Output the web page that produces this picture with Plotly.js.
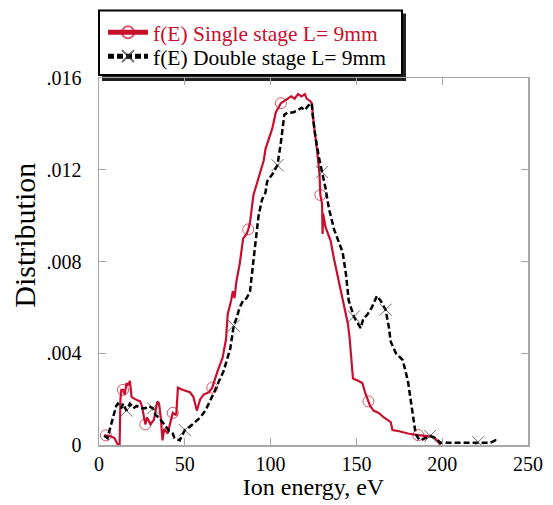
<!DOCTYPE html>
<html>
<head>
<meta charset="utf-8">
<script src="https://cdn.plot.ly/plotly-3.0.1.min.js"></script>
<style>html,body{margin:0;padding:0;background:#fff;}#chart{width:553px;height:505px;}</style>
</head>
<body>
<div id="chart"></div>
<script>
// Single stage L = 9mm : ion energy (eV) and distribution
var singleE = [3,4,6,9,11,12,12.5,13,14,15,16,17,18,19,21,24,25,26,27,28,30,32,34,35,36,37,38,40,42,43,45,46,49,53,55,57,59,61,64,66,69,72,74,75,77,78,79,80,82,84,86,87,88,90,92,94,96,97,99,101,103,105,106,108,110,112,114,116,118,120,121,123,124,125,127,128.5,129,130,130.3,130.6,132,135,137,139,141,143,145,146,147,148,151,153.5,155,157,158,160,163,166,170,171,175,180,183,186,190,195,197,199];
var singleD = [.0004,.00042,.0004,.0003,0,0,.002,.0024,.0024,.0022,.0027,.0026,.0028,.0021,.002,.0019,.0017,.0012,.0009,.0012,.0009,.0011,.0019,.0018,.0012,.0002,.0007,.0005,.0011,.0014,.0013,.0025,.0024,.0023,.0021,.0015,.002,.0022,.0023,.0025,.0032,.0038,.0046,.0057,.0063,.0067,.0064,.0071,.0079,.009,.0092,.0094,.0097,.0109,.0114,.0119,.0124,.0129,.0134,.0138,.0145,.0148,.0149,.015,.0151,.0152,.0151,.0153,.0152,.0153,.0151,.015,.0149,.0141,.0129,.0118,.0109,.0105,.0092,.0101,.0095,.0089,.0081,.0074,.0067,.006,.0053,.0047,.0038,.0029,.0028,.0027,.0023,.0019,.0017,.0015,.0014,.0012,.001,.00065,.0006,.0005,.00048,.00043,.0004,.00035,.0002,0];
var singleMarkerE = [4,14,27,43,66,87,106,129,157,186];

// Double stage L = 9mm
var doubleE = [3,5,6,8,10,11,13,14,16,18,20,22,25,27,29,31.5,33,35,37,39,41,43,44,47,50,53,56,59,62,64,66.5,70,72.5,76.5,78.5,80,82,84,86,88,89,91,93,95,97,98,101,104,106,108,110,113,116,118,120,122,124,124.5,126,128,130,132,134,137,140,142,144,145.5,148.5,150,152.5,154,156.5,159,162,164,167,169,170,173,177,180,182,183.5,184.5,186,187.5,190,193,196,199,203,207,211,215,218,221,224,228,231,232];
var doubleD = [.0004,.0003,.0006,.0012,.0017,.0018,.0016,.0018,.0015,.0018,.0016,.0017,.0016,.0016,.0017,.0016,.0013,.0012,.001,.0008,.0006,.0005,.0003,.0002,.00065,.0008,.001,.0012,.0015,.0018,.0022,.0028,.0032,.0042,.0052,.0055,.006,.0063,.0064,.0067,.0073,.0087,.01,.0107,.011,.0115,.0118,.0122,.0132,.0144,.0145,.0145,.0146,.0147,.0146,.0148,.0149,.0144,.0135,.0126,.0119,.0112,.0103,.0094,.0088,.0084,.0074,.0063,.0056,.0054,.0051,.0055,.0057,.006,.0065,.0063,.0059,.0051,.0045,.004,.0037,.0028,.0018,.0011,.0005,.0003,.0002,.0003,.0004,.0003,.0001,.0001,.0001,.00012,.00013,.0001,.00013,.0001,.0001,.0002,.0001];
var doubleMarkerE = [16,31.5,50,78.5,104,130,148.5,167,193,221];

var xTicks = [0,50,100,150,200,250];
var yTickVals = [0,0.004,0.008,0.012,0.016];
var yTickText = ['0','.004','.008','.012','.016'];
var seriesNames = ['f(E) Single stage L= 9mm','f(E) Double stage L= 9mm'];

var RED = '#c8102e';
var FONT = 'Liberation Serif, Times New Roman, serif';

function sizes(E, marks, s){ return E.map(function(e){ return marks.indexOf(e) >= 0 ? s : 0; }); }

var traces = [
  {
    x: singleE, y: singleD, type: 'scatter', mode: 'lines+markers',
    name: '<span style="color:' + RED + '">' + seriesNames[0] + '</span>',
    legend: 'legend',
    line: {color: RED, width: 2.2},
    marker: {symbol: 'circle-open', color: RED, size: sizes(singleE, singleMarkerE, 11), line: {color: RED, width: 1}}
  },
  {
    x: doubleE, y: doubleD, type: 'scatter', mode: 'lines+markers',
    name: seriesNames[1],
    legend: 'legend2',
    line: {color: '#000', width: 2.5, dash: '6px,3px'},
    marker: {symbol: 'x-thin-open', color: '#333', size: sizes(doubleE, doubleMarkerE, 12), line: {color: '#333', width: 1}}
  }
];

var PW = 429, PH = 370; // plot area in px
function px(x){ return x / PW; }
function py(y){ return y / PH; }

function legendAt(rowFromTop){
  return {
    x: px(4), y: 1 + py(75 - rowFromTop), xanchor: 'left', yanchor: 'middle',
    bgcolor: 'rgba(0,0,0,0)', borderwidth: 0,
    font: {family: FONT, size: 21.5, color: '#000'},
    itemsizing: 'constant', itemwidth: 40
  };
}

var layout = {
  width: 553, height: 505,
  margin: {l: 99, r: 25, t: 75, b: 60},
  paper_bgcolor: '#fff', plot_bgcolor: '#fff',
  font: {family: FONT, size: 18, color: '#000'},
  showlegend: true,
  legend: legendAt(29),
  legend2: legendAt(53),
  xaxis: {
    range: [0, 250], tickvals: xTicks, ticktext: xTicks.map(String),
    showgrid: false, zeroline: false,
    showline: true, linecolor: '#a8a8a8', linewidth: 1.5, mirror: 'ticks',
    ticks: 'inside', ticklen: 7, tickcolor: '#a8a8a8', tickwidth: 1,
    tickfont: {family: FONT, size: 20, color: '#000'},
    title: {text: 'Ion energy, eV', font: {family: FONT, size: 24, color: '#000'}, standoff: 2}
  },
  yaxis: {
    range: [0, 0.016], tickvals: yTickVals, ticktext: yTickText,
    showgrid: false, zeroline: false,
    showline: true, linecolor: '#a8a8a8', linewidth: 1.5, mirror: 'ticks',
    ticks: 'inside', ticklen: 7, tickcolor: '#a8a8a8', tickwidth: 1,
    ticklabelstandoff: 12,
    tickfont: {family: FONT, size: 20, color: '#000'}
  },
  annotations: [
    {text: 'Distribution', xref: 'paper', yref: 'paper', x: px(25 - 99), y: 1 - py(234 - 75),
     xanchor: 'center', yanchor: 'middle', textangle: -90, showarrow: false,
     font: {family: FONT, size: 30, color: '#000'}}
  ],
  shapes: [
    {type: 'rect', xref: 'paper', yref: 'paper', layer: 'below',
     x0: px(3), x1: px(307), y0: 1 + py(-3), y1: 1 + py(65),
     fillcolor: '#222', line: {width: 0}},
    {type: 'rect', xref: 'paper', yref: 'paper', layer: 'below',
     x0: px(0), x1: px(303), y0: 1 + py(3), y1: 1 + py(68),
     fillcolor: '#fff', line: {color: '#000', width: 2}}
  ]
};

Plotly.newPlot('chart', traces, layout, {displayModeBar: false, staticPlot: true});
</script>
</body>
</html>
